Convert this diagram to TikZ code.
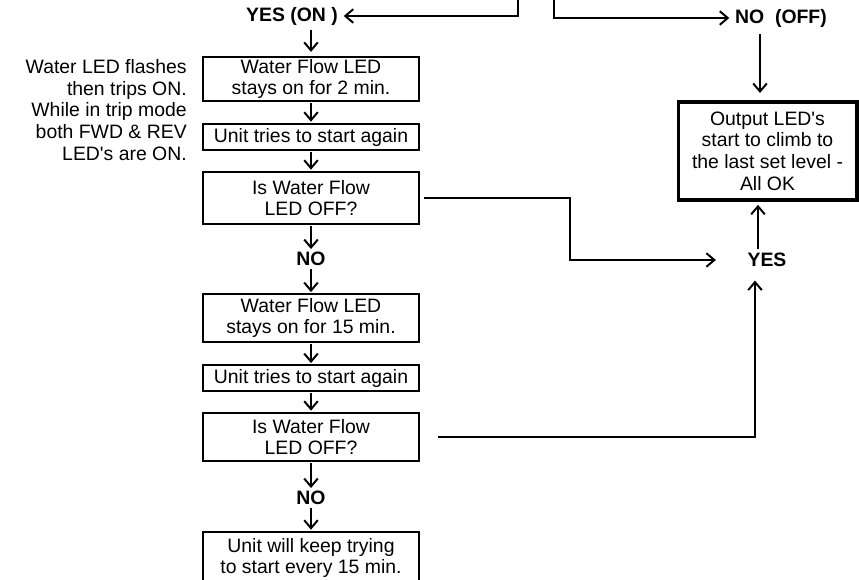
\documentclass[tikz,border=0pt]{standalone}
\usepackage{fontspec}
\setmainfont{Liberation Sans}
\usepackage{tikz}
\usetikzlibrary{arrows.meta,positioning,calc}
\newcommand{\flowfont}{\fontsize{13.8pt}{15.4pt}\selectfont}
\tikzset{
  pbox/.style={draw=black, line width=1.3pt, fill=white, align=center, inner sep=0pt, minimum width=5.4cm, font=\flowfont},
  obox/.style={draw=black, line width=2.8pt, fill=white, align=center, inner sep=0pt, minimum width=4.45cm, minimum height=2.45cm, font=\flowfont},
  lbl/.style={inner sep=1pt, font=\flowfont\bfseries},
  note/.style={align=right, inner sep=0pt, font=\flowfont},
  flow/.style={-{Straight Barb[length=2mm, width=3.4mm, line width=1.4pt]}, line width=1.3pt, draw=black},
}

\begin{document}
\begin{tikzpicture}[x=0.025cm, y=-0.025cm]
  \useasboundingbox (0,0) rectangle (859,579);
  \node[lbl] (yeson) at (292,16) {YES (ON )};
  \node[lbl] (nooff) at (781,18) {NO\ \ (OFF)};
  \node[note, anchor=east] (trip) at (187,110)
    {Water LED flashes\\then trips ON.\\While in trip mode\\both FWD \& REV\\LED\textquotesingle s are ON.};
  \node[pbox, minimum height=1.1cm]  (b1) at (311,79)  {Water Flow LED\\stays on for 2 min.};
  \node[pbox, minimum height=0.65cm] (b2) at (311,137) {Unit tries to start again};
  \node[pbox, minimum height=1.3cm]  (b3) at (311,198) {Is Water Flow\\LED OFF?};
  \node[lbl] (no1) at (311,259) {NO};
  \node[pbox, minimum height=1.18cm] (b4) at (311,318) {Water Flow LED\\stays on for 15 min.};
  \node[pbox, minimum height=0.63cm] (b5) at (311,378) {Unit tries to start again};
  \node[pbox, minimum height=1.2cm]  (b6) at (311,437) {Is Water Flow\\LED OFF?};
  \node[lbl] (no2) at (311,498) {NO};
  \node[pbox, minimum height=1.3cm]  (b7) at (311,558) {Unit will keep trying\\to start every 15 min.};
  \node[obox] (out) at (767.5,151) {Output LED\textquotesingle s\\start to climb to\\the last set level -\\All OK};
  \node[lbl] (yes) at (767,260) {YES};
  \coordinate (topl) at (518,-2);
  \coordinate (topr) at (554,-2);
  \draw[flow, shorten >=3pt] (topl) |- (yeson.east);
  \draw[flow, shorten >=3pt] (topr) |- (nooff.west);
  \draw[flow, shorten <=2pt, shorten >=3pt] (b1.north |- yeson.south) -- (b1.north);
  \draw[flow, shorten <=1pt, shorten >=1pt] (b1) -- (b2);
  \draw[flow, shorten <=1pt, shorten >=1pt] (b2) -- (b3);
  \draw[flow, shorten <=1pt, shorten >=1pt] (b3) -- (no1);
  \draw[flow, shorten <=1pt, shorten >=1pt] (no1) -- (b4);
  \draw[flow, shorten <=1pt, shorten >=1pt] (b4) -- (b5);
  \draw[flow, shorten <=1pt, shorten >=1pt] (b5) -- (b6);
  \draw[flow, shorten <=1pt, shorten >=1pt] (b6) -- (no2);
  \draw[flow, shorten <=1pt, shorten >=1pt] (no2) -- (b7);
  \draw[flow, shorten <=4pt, shorten >=5pt] ([xshift=-0.525cm]nooff.south) -- ([xshift=-0.525cm]nooff.south |- out.north);
  \draw[flow, shorten <=2pt, shorten >=2pt] ([xshift=-0.225cm]yes.north) -- ([xshift=-0.225cm]yes.north |- out.south);
  \draw[flow] ([xshift=0.1cm]b3.east) -- ++(3.65cm,0) |- ([xshift=-0.75cm]yes.west);
  \draw[flow] ([xshift=0.45cm]b6.east) -| ([xshift=-0.3cm,yshift=-0.3cm]yes.south);
\end{tikzpicture}
\end{document}
